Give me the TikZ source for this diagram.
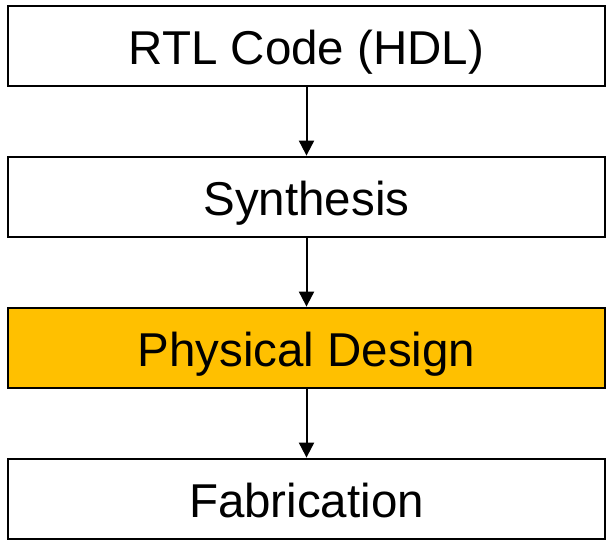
\documentclass[tikz,border=0pt]{standalone}
\usepackage{fontspec}
\setmainfont{Liberation Sans}
\usetikzlibrary{arrows.meta}
\definecolor{hl}{HTML}{FFC000}
\begin{document}
\begin{tikzpicture}[x=1pt,y=-1pt,
  stage/.style={draw=black,line width=2.8pt,minimum width=597pt,minimum height=80pt,inner sep=0pt,
    text height=37pt,text depth=0pt,font=\fontsize{47.5}{52}\selectfont},
  flow/.style={line width=2pt,-{Triangle[width=15pt,length=15pt]}}]
\useasboundingbox (0,0) rectangle (606,540);
\node[stage,fill=white] (a) at (306.5,46) {RTL Code (HDL)};
\node[stage,fill=white] (b) at (306.5,197) {Synthesis};
\node[stage,fill=hl] (c) at (306.5,348) {Physical Design};
\node[stage,fill=white] (d) at (306.5,499) {Fabrication};
\draw[flow] (a) -- (b);
\draw[flow] (b) -- (c);
\draw[flow] (c) -- (d);
\end{tikzpicture}
\end{document}
